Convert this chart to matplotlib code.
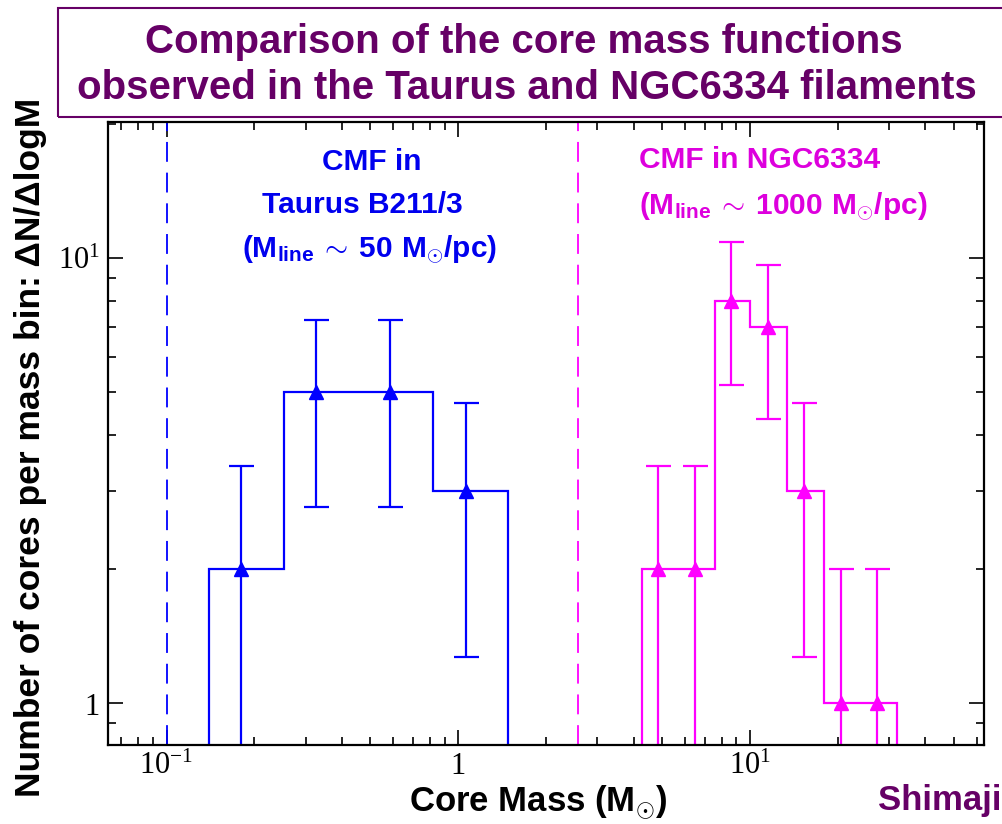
import matplotlib
matplotlib.use("Agg")
import matplotlib.pyplot as plt
from matplotlib.patches import Rectangle
from matplotlib.ticker import FixedLocator, FixedFormatter, LogLocator, NullFormatter

plt.rcParams['font.family'] = ['Liberation Sans', 'DejaVu Sans']
plt.rcParams['mathtext.fontset'] = 'custom'
plt.rcParams['mathtext.rm'] = 'Liberation Serif'
plt.rcParams['mathtext.bf'] = 'Liberation Sans:bold'

# Taurus B211/3 CMF
taurus_edges = [0.140, 0.253, 0.456, 0.821, 1.48]
taurus_counts = [2, 5, 5, 3]
taurus_mass = [0.180, 0.326, 0.585, 1.06]
taurus_err = [1.41, 2.24, 2.24, 1.73]

# NGC6334 CMF
ngc_edges = [4.26, 5.68, 7.57, 10.05, 13.45, 17.9, 23.9, 31.9]
ngc_counts = [2, 2, 8, 7, 3, 1, 1]
ngc_mass = [4.84, 6.47, 8.63, 11.5, 15.3, 20.5, 27.2]
ngc_err = [1.41, 1.41, 2.83, 2.65, 1.73, 1.0, 1.0]

# completeness limits
taurus_limit = 0.1
ngc_limit = 2.58

blue = '#0000ff'
magenta = '#ff00ff'
purple = '#660066'

fig = plt.figure(figsize=(10.02, 8.24), dpi=100)
ax = fig.add_axes([0.1078, 0.0959, 0.8742, 0.7561])

for edges, counts, mass, err, col in [
        (taurus_edges, taurus_counts, taurus_mass, taurus_err, blue),
        (ngc_edges, ngc_counts, ngc_mass, ngc_err, magenta)]:
    ax.stairs(counts, edges, baseline=0.5, color=col, lw=1.6)
    lower = [min(e, c - 0.3) for c, e in zip(counts, err)]
    ax.errorbar(mass, counts, yerr=[lower, err], fmt='^', color=col,
                ms=10, capsize=9, elinewidth=1.6, capthick=1.6)

ax.axhline(0.805, color='#000080', lw=1.2)
ax.axvline(taurus_limit, color=blue, lw=1.3, ls=(0, (11, 6)))
ax.axvline(ngc_limit, color=magenta, lw=1.3, ls=(0, (11, 6)))

ax.set_xscale('log')
ax.set_yscale('log')
ax.set_xlim(0.063, 63.5)
ax.set_ylim(0.805, 20.2)

ax.xaxis.set_major_locator(FixedLocator([0.1, 1, 10]))
ax.xaxis.set_major_formatter(FixedFormatter([r'$\mathrm{10^{-1}}$', r'$\mathrm{1}$', r'$\mathrm{10^{1}}$']))
ax.yaxis.set_major_locator(FixedLocator([1, 10]))
ax.yaxis.set_major_formatter(FixedFormatter([r'$\mathrm{1}$', r'$\mathrm{10^{1}}$']))
for axis in (ax.xaxis, ax.yaxis):
    axis.set_minor_locator(LogLocator(base=10, subs=range(2, 10)))
    axis.set_minor_formatter(NullFormatter())
ax.tick_params(which='both', direction='in', top=True, right=True, labelsize=22, width=1.2)
ax.tick_params(which='major', length=11)
ax.tick_params(axis='x', which='major', pad=4)
ax.tick_params(axis='y', which='major', pad=6)
ax.tick_params(which='minor', length=6)
for s in ax.spines.values():
    s.set_linewidth(1.6)

fig.text(0.537, 0.027, 'Core Mass (M$_{\\odot}$)', fontsize=25, fontweight='bold', ha='center', va='center')
fig.text(0.030, 0.4575, 'Number of cores per mass bin: ΔN/ΔlogM', fontsize=25.5, fontweight='bold',
         ha='center', va='center', rotation=90)

tcol = '#0000ee'
ncol = '#dd00dd'
fig.text(0.3713, 0.8034, 'CMF in', color=tcol, fontsize=21.5, fontweight='bold', ha='center', va='center')
fig.text(0.3613, 0.7512, 'Taurus B211/3', color=tcol, fontsize=21.5, fontweight='bold', ha='center', va='center')
fig.text(0.3693, 0.6966, r'$\mathbf{(M_{line}}\,\sim\,\mathbf{50\ M_{\odot}/pc)}$', color=tcol, fontsize=21.5,
         ha='center', va='center')
fig.text(0.7585, 0.8058, 'CMF in NGC6334', color=ncol, fontsize=21.5, fontweight='bold', ha='center', va='center')
fig.text(0.7814, 0.7488, r'$\mathbf{(M_{line}}\,\sim\,\mathbf{1000\ M_{\odot}/pc)}$', color=ncol, fontsize=21.5,
         ha='center', va='center')

fig.patches.append(Rectangle((0.058, 0.858), 1.0, 0.132, transform=fig.transFigure,
                             fill=False, edgecolor=purple, lw=1.5))
fig.text(0.523, 0.949, 'Comparison of the core mass functions', color=purple, fontsize=29,
         fontweight='bold', ha='center', va='center')
fig.text(0.526, 0.893, 'observed in the Taurus and NGC6334 filaments', color=purple, fontsize=29,
         fontweight='bold', ha='center', va='center')
fig.text(0.876, 0.029, 'Shimaji', color=purple, fontsize=25, fontweight='bold', ha='left', va='center')

fig.savefig('out.png', dpi=100)
